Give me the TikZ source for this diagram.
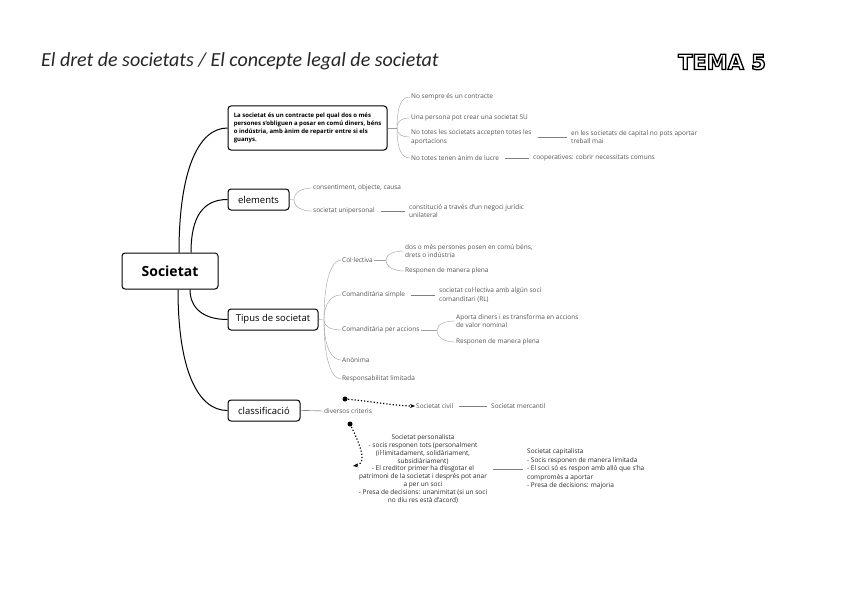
\documentclass[tikz,border=0pt]{standalone}
\usepackage{fontspec}
\setmainfont{Open Sans}
\newfontfamily\titlefont{Carlito}
\newfontfamily\temafont{DejaVu Sans}
\usetikzlibrary{positioning,arrows.meta,calc}

\tikzset{
  topic/.style={draw,line width=1pt,rounded corners=3pt,fill=white,inner sep=3pt,
    font=\fontsize{9.5}{11}\selectfont},
  leaf/.style={anchor=west,inner sep=1pt,align=left,text=black!68,
    font=\fontsize{6.5}{8.8}\selectfont},
  twig/.style={draw=black!38,line width=0.4pt},
  link/.style={draw=black!50,line width=0.4pt,shorten <=5pt,shorten >=3pt},
  branch/.style={draw=black,line width=1pt},
  hint/.style={draw=black,line width=1.2pt,dotted,-{Stealth[length=5pt,width=4pt]}},
  curl/.style={to path={.. controls ($(\tikztostart)!0.75!(\tikztostart|-\tikztotarget)$)
    and ($(\tikztotarget)+(-8,0)$) .. (\tikztotarget)}},
}

\begin{document}
\begin{tikzpicture}[x=1pt,y=-1pt]
   \useasboundingbox (0,0) rectangle (848,599);

   % title
   \node[anchor=west,inner sep=0pt,text=black!85,
     font=\titlefont\itshape\fontsize{20}{24}\selectfont] (title) at (41,61)
     {El dret de societats / El concepte legal de societat};
   \node[font=\temafont\bfseries\fontsize{21}{24}\selectfont] (tema) at (722,62)
     {\textcolor{white}{\special{pdf:literal direct 0 0 0 RG 1.3 w 2 Tr}TEMA 5}\special{pdf:literal direct 0 Tr}};

   % main branches
   \node[topic,font=\bfseries\fontsize{14}{16}\selectfont,minimum width=96,minimum height=36] (soc) at (170,271) {Societat};
   \node[topic,font=\bfseries\fontsize{6}{8.2}\selectfont,align=left,minimum width=159,minimum height=44] (def) at (307.5,128)
     {La societat és un contracte pel qual dos o més\\persones s'obliguen a posar en comú diners, béns\\o indústria, amb ànim de repartir entre si els\\guanys.};
   \node[topic,minimum width=61,minimum height=21] (elem) at (258.5,199.5) {elements};
   \node[topic,minimum width=90,minimum height=21] (tipus) at (273,319.5) {Tipus de societat};
   \node[topic,minimum width=72,minimum height=21] (classif) at (264,410.5) {classificació};

   \draw[branch] ([xshift=9]soc.north) .. controls +(0,-80) and +(-30,0) .. (def.west);
   \draw[branch] ([xshift=21]soc.north) .. controls +(0,-35) and +(-25,0) .. (elem.west);
   \draw[branch] ([xshift=20]soc.south) .. controls +(0,18) and +(-25,0) .. (tipus.west);
   \draw[branch] ([xshift=8]soc.south) .. controls +(0,80) and +(-30,0) .. (classif.west);

   % definicio
   \coordinate (defb) at (397,128);
   \node[leaf] (d1) at (410,97) {No sempre és un contracte};
   \node[leaf] (d2) at (410,118) {Una persona pot crear una societat SU};
   \node[leaf] (d3) at (410,137) {No totes les societats accepten totes les\\aportacions};
   \node[leaf] (d4) at (410,158) {No totes tenen ànim de lucre};
   \node[leaf] (d3a) at (570,137) {en les societats de capital no pots aportar\\treball mai};
   \node[leaf] (d4a) at (532,158) {cooperatives: cobrir necessitats comuns};
   \draw[twig] (def.east) -- (defb);
   \foreach \n in {d1,d2,d3,d4}
     \draw[twig] (defb) to[curl] (\n.west);
   \draw[link] (d3.east) -- (d3a.west);
   \draw[link] (d4.east) -- (d4a.west);

   % elements
   \coordinate (elb) at (294,200);
   \node[leaf] (e1) at (312,188) {consentiment, objecte, causa};
   \node[leaf] (e2) at (312,211) {societat unipersonal};
   \node[leaf] (e2a) at (408,211) {constitució a través d'un negoci jurídic\\unilateral};
   \draw[twig] (elem.east) -- (elb);
   \foreach \n in {e1,e2}
     \draw[twig] (elb) to[curl] (\n.west);
   \draw[link] (e2.east) -- (e2a.west);

   % tipus de societat
   \coordinate (tib) at (324,320);
   \node[leaf] (t1) at (341,260) {Col·lectiva};
   \node[leaf] (t2) at (341,295) {Comanditària simple};
   \node[leaf] (t3) at (341,330) {Comanditària per accions};
   \node[leaf] (t4) at (341,360) {Anònima};
   \node[leaf] (t5) at (341,379) {Responsabilitat limitada};
   \draw[twig] (tipus.east) -- (tib);
   \foreach \n in {t1,t2,t3,t4,t5}
     \draw[twig] (tib) to[curl] (\n.west);

   \coordinate (t1b) at (386,260);
   \node[leaf] (c1) at (404,251) {dos o més persones posen en comú béns,\\drets o indústria};
   \node[leaf] (c2) at (404,271) {Responen de manera plena};
   \draw[twig] (t1.east) -- (t1b);
   \foreach \n in {c1,c2}
     \draw[twig] (t1b) to[curl] (\n.west);

   \node[leaf] (t2a) at (438,295) {societat col·lectiva amb algún soci\\comanditari (RL)};
   \draw[link] (t2.east) -- (t2a.west);

   \coordinate (t3b) at (437,330);
   \node[leaf] (a1) at (455,321) {Aporta diners i es transforma en accions\\de valor nominal};
   \node[leaf] (a2) at (455,342) {Responen de manera plena};
   \draw[twig] (t3.east) -- (t3b);
   \foreach \n in {a1,a2}
     \draw[twig] (t3b) to[curl] (\n.west);

   % classificacio
   \node[leaf] (crit) at (323,411) {diversos criteris};
   \draw[twig,draw=black!70] (classif.east) -- (crit.west);
   \fill (345,399) circle (2.5) coordinate (dot1);
   \fill (350,424) circle (2.5) coordinate (dot2);
   \node[leaf] (civ) at (415,406) {Societat civil};
   \node[leaf] (merc) at (490,406) {Societat mercantil};
   \draw[hint] (dot1) .. controls +(25,2) and +(-20,0) .. (civ.west);
   \draw[link] (civ.east) -- (merc.west);

   \coordinate (perst) at (353,466);
   \node[align=center,inner sep=1pt,text=black!85,font=\fontsize{6.5}{7.9}\selectfont] (pers) at (423,469)
     {Societat personalista\\- socis responen tots (personalment\\(il·limitadament, solidàriament,\\subsidiàriament)\\- El creditor primer ha d'esgotar el\\patrimoni de la societat i després pot anar\\a per un soci\\- Presa de decisions: unanimitat (si un soci\\no diu res està d'acord)};
   \draw[hint] (dot2) .. controls +(12,24) and +(14,-2) .. (perst);
   \node[leaf,text=black!85,font=\fontsize{6.5}{8.6}\selectfont] (cap) at (526,469)
     {Societat capitalista\\- Socis responen de manera limitada\\- El soci só es respon amb allò que s'ha\\compromès a aportar\\- Presa de decisions: majoria};
   \draw[link] (pers.east) -- (cap.west);
\end{tikzpicture}
\end{document}
